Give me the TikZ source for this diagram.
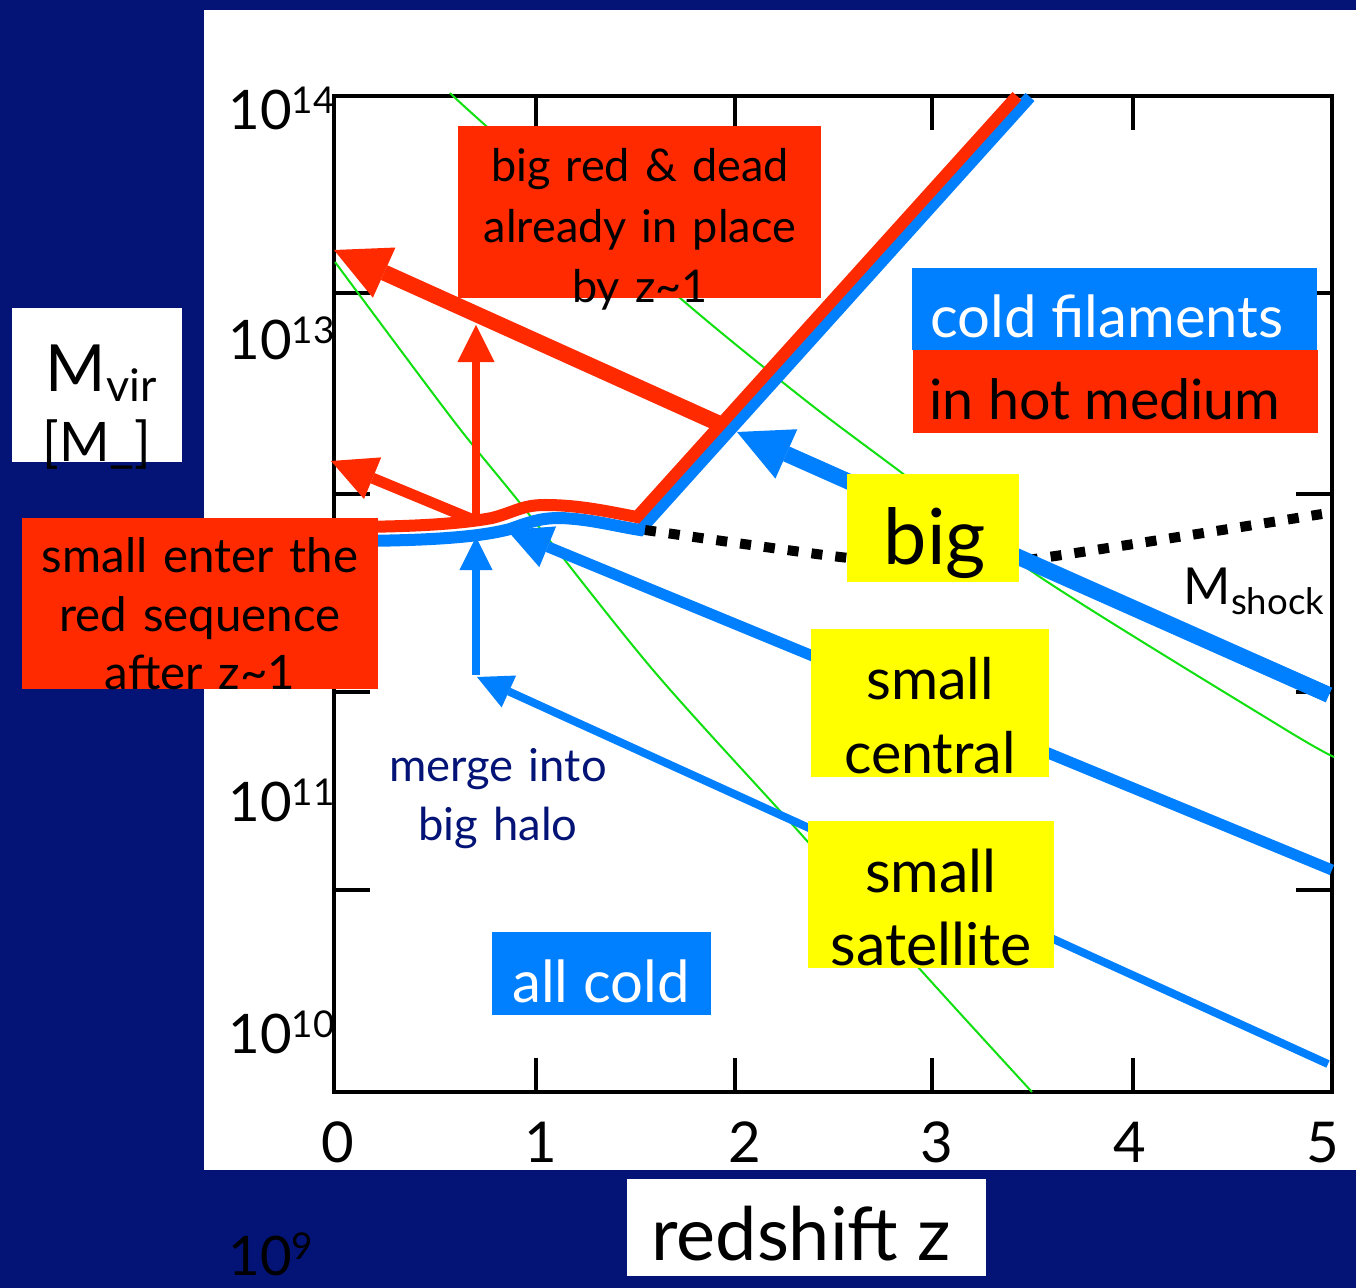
\documentclass[tikz,border=0pt]{standalone}
\usepackage{fontspec}
\setmainfont{Lato}
\usetikzlibrary{arrows.meta}
\definecolor{navy}{HTML}{041476}
\definecolor{hot}{HTML}{FF2A00}
\definecolor{cold}{HTML}{0080FF}
\definecolor{lime}{HTML}{10E010}
\definecolor{ylw}{HTML}{FFFF00}
\newcommand{\fsz}[2]{\fontsize{#1}{#2}\selectfont}

\begin{document}
\begin{tikzpicture}[x=0.01cm, y=-0.01cm,
  box/.style={rectangle, inner sep=0pt, outer sep=0pt},
  txt/.style={inner sep=0pt, align=center, anchor=base},
  tk/.style={line width=0.04cm},
  cur/.style={line width=0.12cm},
  arr/.style={-{Triangle[length=#1, width=#1, line width=0pt]}}
]
\useasboundingbox (0,0) rectangle (1356,1288);
\fill[navy] (0,0) rectangle (1356,1288);
\fill[white] (204,10) rectangle (1356,1170);

% frame and ticks
\draw[tk] (334,96) rectangle (1332,1092);
\foreach \x in {536,735,932,1133} {
  \draw[tk] (\x,1092) -- ++(0,-34);
  \draw[tk] (\x,96) -- ++(0,34);
}
\foreach \y in {293,494,692,890} {
  \draw[tk] (334,\y) -- ++(36,0);
  \draw[tk] (1332,\y) -- ++(-36,0);
}
\foreach \x/\z in {338/0,541/1,745/2,937/3,1130/4,1323/5}
  \node[txt, font=\fsz{16}{18}] (z\z) at (\x,1163) {\z};
\foreach \y/\e/\n in {130/14/m14,360/13/m13,822/11/m11,1054/10/m10,1276/9/m9}
  \node[anchor=base west, inner sep=0pt, font=\fsz{15.5}{18}] (\n) at (228,\y) {10\raisebox{4.8pt}{\fsz{10.5}{12}\e}};

% tracks
\draw[lime, line width=0.02cm] plot[smooth] coordinates {(450,93) (485,125) (680,298) (805,400) (902,473) (1040,577) (1283,728) (1334,757)};
\draw[lime, line width=0.02cm] plot[smooth] coordinates {(335,262) (453,420) (520,503) (653,670) (800,833) (918,967) (1032,1092)};
\draw[cold, cur] (340,541) .. controls (430,541) and (480,537) .. (510,529)
  .. controls (530,522) and (540,518) .. (560,518)
  .. controls (590,519) and (615,526) .. (640,530) -- (1030,97);
\draw[hot, cur] (340,527) .. controls (420,527) and (465,523) .. (492,518)
  .. controls (515,512) and (522,505) .. (545,505)
  .. controls (580,505) and (610,512) .. (637,517) -- (1017,96);
\draw[line width=0.1cm, dash pattern=on 0.11cm off 0.13cm] plot[smooth] coordinates {(645,530) (840,557) (935,564) (1027,560) (1322,514)};

\coordinate (redfork) at (476,521);
\coordinate (hotknee) at (722,425);
\coordinate (deadtip) at (334,250);
\coordinate (uptip) at (476,325);
\coordinate (lefttip) at (331,461);
\coordinate (coldknee) at (737,432);
\coordinate (bigend) at (1329,695);
\coordinate (bumptip) at (507,530);
\coordinate (centralend) at (1332,870);
\coordinate (mergetip) at (477,677);
\coordinate (satend) at (1328,1064);
\coordinate (mergebase) at (476,675);
\coordinate (mergetop) at (476,537);

\draw[hot, line width=0.16cm, arr=0.55cm] (hotknee) -- (deadtip);
\draw[hot, line width=0.07cm, arr=0.37cm] (redfork) -- (uptip);
\draw[hot, line width=0.11cm, arr=0.45cm] (redfork) -- (lefttip);
\draw[cold, line width=0.16cm, arr=0.54cm] (bigend) -- (coldknee);
\draw[cold, line width=0.11cm, arr=0.44cm] (centralend) -- (bumptip);
\draw[cold, line width=0.08cm, arr=0.35cm] (satend) -- (mergetip);
\draw[cold, line width=0.08cm, arr=0.33cm] (mergebase) -- (mergetop);

% boxes
\node[box, fill=hot, minimum width=3.63cm, minimum height=1.72cm] (deadbox) at (639.5,212) {};
\node[box, fill=hot, minimum width=3.56cm, minimum height=1.71cm] (enterbox) at (200,603.5) {};
\node[box, fill=cold, minimum width=4.05cm, minimum height=0.82cm] (coldbox) at (1114.5,309) {};
\node[box, fill=hot, minimum width=4.05cm, minimum height=0.83cm] (hotbox) at (1115.5,391.5) {};
\node[box, fill=ylw, minimum width=1.72cm, minimum height=1.08cm] (bigbox) at (933,528) {};
\node[box, fill=ylw, minimum width=2.38cm, minimum height=1.48cm] (centralbox) at (930,703) {};
\node[box, fill=ylw, minimum width=2.46cm, minimum height=1.47cm] (satbox) at (931,894.5) {};
\node[box, fill=cold, minimum width=2.19cm, minimum height=0.83cm] (allcoldbox) at (601.5,973.5) {};
\node[box, fill=white, minimum width=1.70cm, minimum height=1.54cm] (mvirbox) at (97,385) {};
\node[box, fill=white, minimum width=3.59cm, minimum height=0.97cm] (zbox) at (806.5,1227.5) {};

% labels
\node[txt, text width=4cm, font=\fsz{12.8}{17.1}] (deadtxt) at (640,182) {big red \& dead\\already in place\\by z\textasciitilde1};
\node[txt, text width=4cm, font=\fsz{13.5}{16.6}] (entertxt) at (200,573) {small enter the\\red sequence\\after z\textasciitilde1};
\node[txt, white, font=\fsz{16.5}{18}] (coldtxt) at (1107,338) {cold filaments};
\node[txt, font=\fsz{15.8}{18}] (hottxt) at (1105,420) {in hot medium};
\node[txt, font=\fsz{22}{24}] (bigtxt) at (935,565) {big};
\node[txt, text width=2.6cm, font=\fsz{16.3}{20.8}] (centraltxt) at (930,700) {small\\central};
\node[txt, text width=2.6cm, font=\fsz{16.8}{20.5}] (sattxt) at (931,893) {small\\satellite};
\node[txt, white, font=\fsz{16.5}{18}] (allcoldtxt) at (601,1003) {all cold};
\node[txt, navy, text width=2.6cm, font=\fsz{12.9}{16.5}] (mergetxt) at (498,782) {merge into\\big halo};
\node[anchor=base west, inner sep=0pt, font=\fsz{14.5}{16}] (shocktxt) at (1183,605) {M\raisebox{-2.8pt}{\fsz{10.4}{12}shock}};
\node[anchor=base west, inner sep=0pt, font=\fsz{18.5}{20}] (mvirtxt) at (45,392) {M\raisebox{-2.8pt}{\fsz{12.8}{14}vir}};
\node[txt, font=\fsz{15.5}{16}] (unittxt) at (97,462) {[M\_]};
\node[txt, font=\fsz{21}{24}] (ztxt) at (801,1261) {redshift z};
\end{tikzpicture}
\end{document}
